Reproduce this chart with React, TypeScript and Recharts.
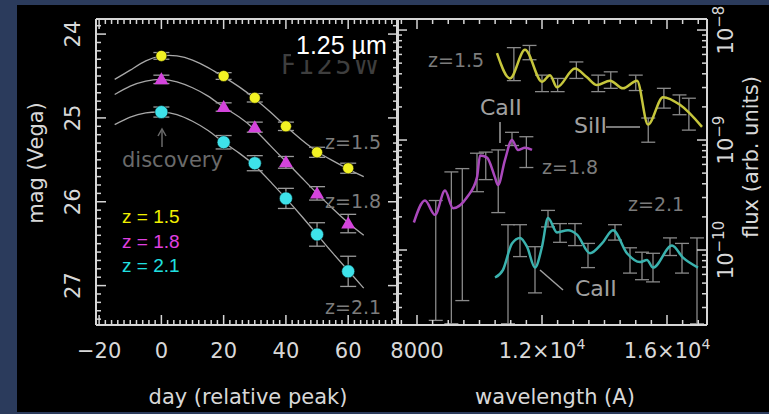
import React from 'react';
import { ComposedChart, Line, Scatter, XAxis, YAxis, ErrorBar, ReferenceLine } from 'recharts';

// light curve, F125W (left panel)
const obsDays = [0, 20, 30, 40, 50, 60];
const magZ15 = [24.26, 24.5, 24.76, 25.1, 25.41, 25.6];
const magZ18 = [24.54, 24.87, 25.11, 25.53, 25.9, 26.26];
const magZ21 = [24.93, 25.29, 25.54, 25.96, 26.39, 26.83];
const errZ15 = [0.04, 0.04, 0.05, 0.05, 0.06, 0.06];
const errZ18 = [0.05, 0.05, 0.06, 0.07, 0.08, 0.11];
const errZ21 = [0.06, 0.08, 0.09, 0.12, 0.14, 0.18];

const fitDays = [-15, -10, -5, 0, 5, 10, 15, 20, 25, 30, 35, 40, 45, 50, 55, 60, 65];
const fitZ15 = [24.54, 24.43, 24.32, 24.26, 24.26, 24.31, 24.4, 24.51, 24.63, 24.77, 24.93, 25.1, 25.26, 25.4, 25.51, 25.61, 25.7];
const fitZ18 = [24.72, 24.62, 24.56, 24.54, 24.57, 24.64, 24.74, 24.87, 24.99, 25.14, 25.33, 25.52, 25.71, 25.9, 26.08, 26.25, 26.4];
const fitZ21 = [25.08, 24.99, 24.94, 24.93, 24.96, 25.04, 25.15, 25.29, 25.42, 25.57, 25.76, 25.96, 26.17, 26.39, 26.61, 26.82, 27.03];

const dayMajor = [-20, 0, 20, 40, 60];
const magMajor = [24, 25, 26, 27];

// spectra (right panel), wavelength in A, flux as log10
const waveZ15 = [10560, 10976, 11456, 12000, 12256, 12480, 13056, 13440, 13760, 14176, 14592, 15040, 15392, 15872, 16416, 17120];
const logFZ15 = [-8.21, -8.44, -8.18, -8.47, -8.41, -8.52, -8.35, -8.43, -8.5, -8.46, -8.53, -8.46, -8.86, -8.61, -8.68, -8.88];
const waveZ18 = [7900, 8256, 8576, 8896, 9152, 9600, 9920, 10016, 10240, 10496, 10592, 10816, 11040, 11232, 11456, 11680];
const logFZ18 = [-9.75, -9.55, -9.68, -9.46, -9.62, -9.52, -9.34, -9.14, -9.16, -9.34, -9.41, -9.18, -9.0, -9.09, -9.07, -9.09];
const waveZ21 = [10496, 10752, 11040, 11296, 11520, 11776, 12000, 12192, 12480, 12832, 13120, 13536, 13920, 14272, 14720, 15136, 15360, 15552, 16160, 16512, 16992];
const logFZ21 = [-10.25, -10.18, -9.94, -9.89, -9.97, -10.16, -9.97, -9.71, -9.84, -9.82, -9.86, -10.03, -9.94, -9.82, -10.03, -10.11, -10.09, -10.16, -9.96, -10.07, -10.16];

// binned error bars: wavelength, log upper, log lower
const ebWaveZ15 = [11100, 11600, 12000, 12500, 13100, 13800, 14200, 15000, 15400, 15900, 16400, 16700];
const ebHiZ15 = [-8.16, -8.14, -8.41, -8.44, -8.29, -8.41, -8.38, -8.41, -8.8, -8.53, -8.59, -8.62];
const ebLoZ15 = [-8.46, -8.27, -8.56, -8.56, -8.44, -8.56, -8.53, -8.55, -9.02, -8.71, -8.77, -8.91];
const ebWaveZ18 = [8600, 9100, 9450, 9920, 10200, 10600, 11040, 11500];
const ebHiZ18 = [-9.55, -9.29, -9.26, -9.12, -9.11, -9.09, -8.93, -8.97];
const ebLoZ18 = [-10.64, -10.67, -10.46, -9.47, -9.36, -9.66, -9.05, -9.25];
const ebWaveZ21 = [10912, 11296, 11776, 12192, 12576, 13056, 13472, 14336, 14816, 15200, 15552, 16096, 16480, 16960];
const ebHiZ21 = [-9.77, -9.77, -9.97, -9.64, -9.76, -9.76, -9.94, -9.77, -9.98, -10.02, -10.03, -9.89, -9.94, -9.89];
const ebLoZ21 = [-10.67, -10.06, -10.39, -9.79, -9.93, -9.96, -10.16, -9.91, -10.21, -10.27, -10.29, -10.05, -10.21, -10.67];

const waveMajor = [8000, 12000, 16000];

const FRAME = '#d6d6d6';
const GRAY = '#9a9a9a';
const FONT = '"DejaVu Sans", sans-serif';

const DAY_DOM: [number, number] = [-21, 76];
const MAG_DOM: [number, number] = [23.82, 27.47];
const WAVE_DOM: [number, number] = [7360, 17280];
const FLUX_DOM: [number, number] = [2.08e-11, 1.26e-8];

const steps = (a: number, b: number, s: number) => {
  const out: number[] = [];
  for (let v = a; v <= b + 1e-9; v += s) out.push(Math.round(v * 1000) / 1000);
  return out;
};
const dayTicks = steps(-20, 76, 2);
const magTicks = steps(23.9, 27.4, 0.1);
const waveTicks = steps(7500, 17000, 500);
const fluxTicks: number[] = [];
[-11, -10, -9, -8].forEach((d) => {
  for (let m = 1; m < 10; m++) {
    const v = m * Math.pow(10, d);
    if (v > 2.1e-11 && v < 1.25e-8) fluxTicks.push(v);
  }
});

const pts = (xs: number[], ys: number[], es?: number[]) =>
  xs.map((x, i) => ({ x, y: ys[i], err: es ? es[i] : 0 }));
const spec = (xs: number[], lf: number[]) => xs.map((x, i) => ({ x, y: Math.pow(10, lf[i]) }));
const ebars = (xs: number[], hi: number[], lo: number[]) =>
  xs.map((x, i) => {
    const y = Math.pow(10, (hi[i] + lo[i]) / 2);
    return { x, y, err: [y - Math.pow(10, lo[i]), Math.pow(10, hi[i]) - y] };
  });

const near = (a: number, b: number) => Math.abs(a - b) < 1e-6;
const isDecade = (v: number) => near(Math.log10(v), Math.round(Math.log10(v)));
const isDayMajor = (v: number) => v % 20 === 0;
const isMagMajor = (v: number) => near(v, Math.round(v));
const isWaveMajor = (v: number) => v % 4000 === 0;
const tickLen = (major: boolean) => (major ? 10 : 5);

// bottom/right ticks + labels come through the axis tick renderer (x,y sit on the frame edge)
const makeTick =
  (side: string, isMajor: (v: number) => boolean, label?: (v: number, x: number, y: number) => React.ReactNode) =>
  (props: any) => {
    const x = Number(props.x);
    const y = Number(props.y);
    const v = props.payload.value;
    const len = tickLen(isMajor(v));
    const mark =
      side === 'bottom' ? `M${x},${y}L${x},${y - len}` : side === 'right' ? `M${x},${y}L${x - len},${y}` : '';
    return (
      <g>
        {mark ? <path d={mark} stroke={FRAME} strokeWidth={1.5} fill="none" /> : null}
        {label ? label(v, x, y) : null}
      </g>
    );
  };

const txt = { fill: '#d8d8d8', fontFamily: FONT, fontSize: 21 };

const dayLabel = (v: number, x: number, y: number) =>
  dayMajor.includes(v) ? (
    <text x={x} y={y + 33} textAnchor="middle" {...txt}>
      {v < 0 ? `\u2212${-v}` : v}
    </text>
  ) : null;

const magLabel = (v: number, x: number, y: number) =>
  magMajor.some((m) => near(m, v)) ? (
    <text x={x - 16} y={y} textAnchor="middle" transform={`rotate(-90 ${x - 16} ${y})`} {...txt}>
      {Math.round(v)}
    </text>
  ) : null;

const waveLabel = (v: number, x: number, y: number) => {
  if (!waveMajor.includes(v)) return null;
  if (v === 8000)
    return (
      <text x={x} y={y + 33} textAnchor="middle" {...txt}>
        8000
      </text>
    );
  return (
    <text x={x} y={y + 33} textAnchor="middle" {...txt}>
      {(v / 10000).toFixed(1)}×10
      <tspan dy={-9} fontSize={14}>
        4
      </tspan>
    </text>
  );
};

const fluxLabel = (v: number, x: number, y: number) => {
  if (!isDecade(v)) return null;
  const e = Math.round(Math.log10(v));
  return (
    <text x={x + 26} y={y} textAnchor="middle" transform={`rotate(-90 ${x + 26} ${y})`} {...txt}>
      10
      <tspan dy={-9} fontSize={15}>
        {`\u2212${-e}`}
      </tspan>
    </text>
  );
};

const dot = (fill: string, r: number) => (p: any) =>
  <circle cx={p.cx} cy={p.cy} r={r} fill={fill} stroke="#000" strokeWidth={0.5} />;
const tri = (fill: string) => (p: any) =>
  (
    <polygon
      points={`${p.cx},${p.cy - 7} ${p.cx - 7},${p.cy + 5} ${p.cx + 7},${p.cy + 5}`}
      fill={fill}
    />
  );
const none = () => <g />;

const axisLine = { stroke: FRAME, strokeWidth: 2 };
const edge = { tickSize: 0, tickMargin: 0, interval: 0 as const, axisLine, tickLine: false, allowDataOverflow: true };

// inward ticks on the left and top frame edges, as short segments in data units
// (per-pixel sizes follow from the plot box: 302x306 px left, 310x306 px right)
const DAY_PER_PX = 97 / 302;
const MAG_PER_PX = 3.65 / 306;
const WAVE_PER_PX = 9920 / 310;
const DEX_PER_PX = Math.log10(FLUX_DOM[1] / FLUX_DOM[0]) / 306;

const seg = (key: string, a: { x: number; y: number }, b: { x: number; y: number }) => (
  <ReferenceLine key={key} segment={[a, b]} stroke={FRAME} strokeWidth={1.5} ifOverflow="visible" />
);

function LightCurve() {
  return (
    <ComposedChart width={400} height={414} margin={{ top: 18, right: 1, bottom: 88, left: 95 }}>
      <XAxis dataKey="x" type="number" domain={DAY_DOM} ticks={dayTicks} height={1} {...edge} tick={makeTick('bottom', isDayMajor, dayLabel)} />
      <XAxis xAxisId="top" orientation="top" type="number" domain={DAY_DOM} ticks={dayTicks} height={1} {...edge} tick={makeTick('top', isDayMajor)} />
      <YAxis dataKey="y" type="number" domain={MAG_DOM} reversed ticks={magTicks} width={1} {...edge} tick={makeTick('left', isMagMajor, magLabel)} />
      <YAxis yAxisId="right" orientation="right" type="number" domain={MAG_DOM} reversed ticks={magTicks} width={1} {...edge} tick={makeTick('right', isMagMajor)} />
      {magTicks.map((v) =>
        seg(`l${v}`, { x: DAY_DOM[0], y: v }, { x: DAY_DOM[0] + tickLen(isMagMajor(v)) * DAY_PER_PX, y: v })
      )}
      {dayTicks.map((v) =>
        seg(`t${v}`, { x: v, y: MAG_DOM[0] }, { x: v, y: MAG_DOM[0] + tickLen(isDayMajor(v)) * MAG_PER_PX })
      )}
      <Line data={pts(fitDays, fitZ15)} dataKey="y" type="natural" stroke="#a8a8a8" strokeWidth={1.3} dot={false} isAnimationActive={false} />
      <Line data={pts(fitDays, fitZ18)} dataKey="y" type="natural" stroke="#a8a8a8" strokeWidth={1.3} dot={false} isAnimationActive={false} />
      <Line data={pts(fitDays, fitZ21)} dataKey="y" type="natural" stroke="#a8a8a8" strokeWidth={1.3} dot={false} isAnimationActive={false} />
      <Scatter data={pts(obsDays, magZ15, errZ15)} dataKey="y" shape={dot('#f2f224', 5.5)} isAnimationActive={false}>
        <ErrorBar dataKey="err" direction="y" width={8} stroke={GRAY} strokeWidth={1.3} isAnimationActive={false} />
      </Scatter>
      <Scatter data={pts(obsDays, magZ18, errZ18)} dataKey="y" shape={tri('#d444dc')} isAnimationActive={false}>
        <ErrorBar dataKey="err" direction="y" width={8} stroke={GRAY} strokeWidth={1.3} isAnimationActive={false} />
      </Scatter>
      <Scatter data={pts(obsDays, magZ21, errZ21)} dataKey="y" shape={dot('#3ee2ea', 6.5)} isAnimationActive={false}>
        <ErrorBar dataKey="err" direction="y" width={8} stroke={GRAY} strokeWidth={1.3} isAnimationActive={false} />
      </Scatter>
    </ComposedChart>
  );
}

function Spectra() {
  return (
    <ComposedChart width={769} height={414} margin={{ top: 18, right: 61, bottom: 88, left: 396 }}>
      <XAxis dataKey="x" type="number" domain={WAVE_DOM} ticks={waveTicks} height={1} {...edge} tick={makeTick('bottom', isWaveMajor, waveLabel)} />
      <XAxis xAxisId="top" orientation="top" type="number" domain={WAVE_DOM} ticks={waveTicks} height={1} {...edge} tick={makeTick('top', isWaveMajor)} />
      <YAxis dataKey="y" type="number" scale="log" domain={FLUX_DOM} ticks={fluxTicks} width={1} {...edge} tick={makeTick('left', isDecade)} />
      <YAxis yAxisId="right" orientation="right" type="number" scale="log" domain={FLUX_DOM} ticks={fluxTicks} width={1} {...edge} tick={makeTick('right', isDecade, fluxLabel)} />
      {fluxTicks.map((v) =>
        seg(`l${v}`, { x: WAVE_DOM[0], y: v }, { x: WAVE_DOM[0] + tickLen(isDecade(v)) * WAVE_PER_PX, y: v })
      )}
      {waveTicks.map((v) =>
        seg(`t${v}`, { x: v, y: FLUX_DOM[1] }, { x: v, y: FLUX_DOM[1] / Math.pow(10, tickLen(isWaveMajor(v)) * DEX_PER_PX) })
      )}
      <Scatter data={ebars(ebWaveZ15, ebHiZ15, ebLoZ15)} dataKey="y" shape={none} isAnimationActive={false}>
        <ErrorBar dataKey="err" direction="y" width={7} stroke="#8a8a8a" strokeWidth={1.3} isAnimationActive={false} />
      </Scatter>
      <Scatter data={ebars(ebWaveZ18, ebHiZ18, ebLoZ18)} dataKey="y" shape={none} isAnimationActive={false}>
        <ErrorBar dataKey="err" direction="y" width={7} stroke="#8a8a8a" strokeWidth={1.3} isAnimationActive={false} />
      </Scatter>
      <Scatter data={ebars(ebWaveZ21, ebHiZ21, ebLoZ21)} dataKey="y" shape={none} isAnimationActive={false}>
        <ErrorBar dataKey="err" direction="y" width={7} stroke="#8a8a8a" strokeWidth={1.3} isAnimationActive={false} />
      </Scatter>
      <Line data={spec(waveZ15, logFZ15)} dataKey="y" type="monotone" stroke="#c6c63c" strokeWidth={2.5} dot={false} isAnimationActive={false} />
      <Line data={spec(waveZ18, logFZ18)} dataKey="y" type="monotone" stroke="#aa48bc" strokeWidth={2.5} dot={false} isAnimationActive={false} />
      <Line data={spec(waveZ21, logFZ21)} dataKey="y" type="monotone" stroke="#3ab2ae" strokeWidth={2.5} dot={false} isAnimationActive={false} />
    </ComposedChart>
  );
}

const note = { fill: '#7c7c7c', fontFamily: FONT, fontSize: 19 };

function Overlay() {
  return (
    <svg width={769} height={414} style={{ position: 'absolute', left: 0, top: 0 }}>
      <text x={281} y={74} fill="#3e3e3e" fontFamily={FONT} fontSize={26} letterSpacing={2}>
        F125W
      </text>
      <rect x={291} y={30} width={96} height={30} fill="#000" />
      <text x={296} y={54} fill="#fff" fontFamily="'Liberation Sans', Arial, sans-serif" fontSize={25}>
        1.25 µm
      </text>
      <line x1={162} y1={147} x2={162} y2={130} stroke="#6a6a6a" strokeWidth={1.5} />
      <polyline points="158,136 162,129 166,136" fill="none" stroke="#6a6a6a" strokeWidth={1.5} />
      <text x={122} y={167} fill="#6a6a6a" fontFamily={FONT} fontSize={21}>
        discovery
      </text>
      <text x={325} y={149} {...note}>z=1.5</text>
      <text x={325} y={208} {...note}>z=1.8</text>
      <text x={325} y={314} {...note}>z=2.1</text>
      <g fontFamily="'Liberation Sans', Arial, sans-serif" fontSize={19}>
        <text x={122} y={223} fill="#f0f000">z = 1.5</text>
        <text x={122} y={248} fill="#e040e0">z = 1.8</text>
        <text x={122} y={272} fill="#20e0e0">z = 2.1</text>
      </g>
      <text x={428} y={67} {...note}>z=1.5</text>
      <text x={542} y={174} {...note}>z=1.8</text>
      <text x={628} y={211} {...note}>z=2.1</text>
      <text x={480} y={115} {...note} fill="#a0a0a0" fontSize={22}>CaII</text>
      <line x1={500} y1={122} x2={500} y2={143} stroke="#a0a0a0" strokeWidth={1.5} />
      <text x={574} y={133} {...note} fill="#a0a0a0" fontSize={22}>SiII</text>
      <line x1={606} y1={127} x2={640} y2={127} stroke="#a0a0a0" strokeWidth={1.5} />
      <text x={575} y={296} {...note} fill="#a0a0a0" fontSize={22}>CaII</text>
      <line x1={540} y1={270} x2={563} y2={290} stroke="#a0a0a0" strokeWidth={1.5} />
      <text x={248} y={404} textAnchor="middle" {...txt}>day (relative peak)</text>
      <text x={555} y={404} textAnchor="middle" {...txt}>wavelength (A)</text>
      <text x={43} y={163} textAnchor="middle" transform="rotate(-90 43 163)" {...txt}>mag (Vega)</text>
      <text x={758} y={157} textAnchor="middle" transform="rotate(-90 758 157)" {...txt}>flux (arb. units)</text>
    </svg>
  );
}

export default function App() {
  return (
    <div style={{ position: 'absolute', left: 0, top: 0, width: 769, height: 414, background: '#2b3b5c', overflow: 'hidden' }}>
      <div style={{ position: 'absolute', left: 17, top: 5, width: 752, height: 407, background: '#000' }} />
      <div style={{ position: 'absolute', left: 0, top: 0 }}>
        <LightCurve />
      </div>
      <div style={{ position: 'absolute', left: 0, top: 0 }}>
        <Spectra />
      </div>
      <Overlay />
    </div>
  );
}
